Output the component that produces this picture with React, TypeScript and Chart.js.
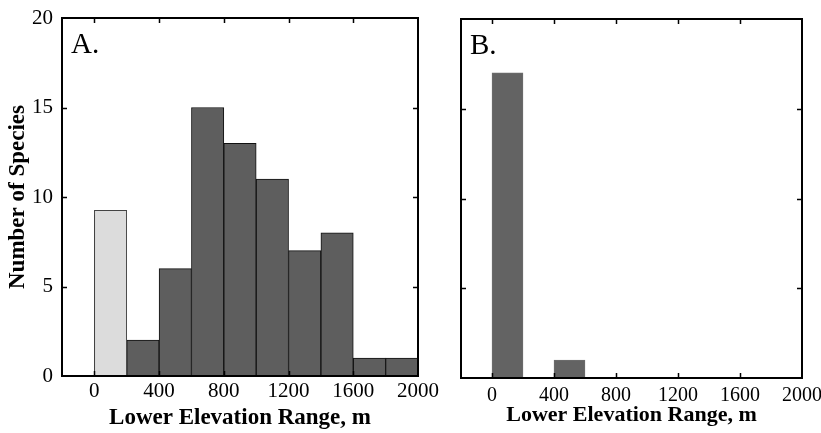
import React, { useEffect, useRef } from "react";
import { Chart, registerables } from "chart.js";

Chart.register(...registerables);

// Bin centres (m), bin width 200 m
const binCenters = [100, 300, 500, 700, 900, 1100, 1300, 1500, 1700, 1900];
// Panel A counts (dark bars)
const countsA = [9, 2, 6, 15, 13, 11, 7, 8, 1, 1];
// Panel A light bar (first bin)
const lightA = [9.25];
// Panel B counts
const countsB = [17, 0, 1, 0, 0, 0, 0, 0, 0, 0];
// Axis ranges and tick labels
const xRange = [-200, 2000];
const yRange = [0, 20];
const xTickLabels = [0, 400, 800, 1200, 1600, 2000];

const SERIF = "'Liberation Serif', 'Times New Roman', serif";

const framePlugin = {
  id: "frame",
  afterDatasetsDraw(chart: any, _args: any, opts: any) {
    const { ctx, chartArea: a, scales } = chart;
    const x = scales.x;
    const y = scales.y;
    ctx.save();
    ctx.strokeStyle = "#000";
    ctx.lineWidth = 2;
    ctx.strokeRect(a.left, a.top, a.right - a.left, a.bottom - a.top);
    ctx.lineWidth = 1.5;
    const L = 5;
    ctx.beginPath();
    x.ticks.forEach((t: any) => {
      if (t.value <= x.min || t.value >= x.max) return;
      const px = Math.round(x.getPixelForValue(t.value)) + 0.5;
      ctx.moveTo(px, a.top);
      ctx.lineTo(px, a.top + L);
      ctx.moveTo(px, a.bottom);
      ctx.lineTo(px, a.bottom - L);
    });
    y.ticks.forEach((t: any) => {
      if (t.value <= y.min || t.value >= y.max) return;
      const py = Math.round(y.getPixelForValue(t.value)) + 0.5;
      ctx.moveTo(a.left, py);
      ctx.lineTo(a.left + L, py);
      ctx.moveTo(a.right, py);
      ctx.lineTo(a.right - L, py);
    });
    ctx.stroke();
    if (opts && opts.label) {
      ctx.fillStyle = "#000";
      ctx.font = `29px ${SERIF}`;
      ctx.textBaseline = "alphabetic";
      ctx.textAlign = "left";
      ctx.fillText(opts.label, a.left + 9, a.top + 35);
    }
    ctx.restore();
  },
};

function makeConfig(panel: "A" | "B") {
  const isA = panel === "A";
  const datasets: any[] = [];
  if (isA) {
    datasets.push({
      data: lightA.map((v, i) => ({ x: binCenters[i], y: v })),
      backgroundColor: "#dcdcdc",
      borderColor: "#444",
      borderWidth: 1,
    });
    datasets.push({
      data: countsA.map((v, i) => ({ x: binCenters[i], y: v })),
      backgroundColor: "#5e5e5e",
      borderColor: "#111",
      borderWidth: 1,
    });
  } else {
    datasets.push({
      data: countsB.map((v, i) => ({ x: binCenters[i], y: v })),
      backgroundColor: "#636363",
      borderColor: "#6e6e6e",
      borderWidth: 1,
    });
  }
  datasets.forEach((d) => {
    d.barPercentage = 1;
    d.categoryPercentage = 1;
    d.grouped = false;
    d.borderSkipped = "bottom";
  });

  return {
    type: "bar" as const,
    data: { datasets },
    plugins: [framePlugin],
    options: {
      animation: false as const,
      responsive: false,
      devicePixelRatio: 1,
      layout: {
        padding: isA
          ? { left: 0, right: 27, top: 18, bottom: 0 }
          : { left: 0, right: 19, top: 19, bottom: 0 },
      },
      plugins: {
        legend: { display: false },
        tooltip: { enabled: false },
        frame: { label: isA ? "A." : "B." },
      },
      scales: {
        x: {
          type: "linear" as const,
          offset: false,
          min: xRange[0],
          max: xRange[1],
          grid: { display: false, drawTicks: false, offset: false },
          border: { display: false },
          ticks: {
            stepSize: 200,
            autoSkip: false,
            maxRotation: 0,
            padding: isA ? 3 : 6,
            color: "#000",
            font: { family: SERIF, size: isA ? 21 : 20 },
            callback: (v: any) => (xTickLabels.includes(v) ? String(v) : null),
          },
          title: {
            display: true,
            text: "Lower Elevation Range, m",
            color: "#000",
            font: { family: SERIF, size: isA ? 23 : 22, weight: "bold" as const },
            padding: { top: 0, bottom: isA ? 1 : 4 },
          },
          afterFit: (s: any) => {
            s.height = isA ? 57 : 55;
            s.paddingLeft = 0;
            s.paddingRight = 0;
          },
        },
        y: {
          min: yRange[0],
          max: yRange[1],
          grid: { display: false, drawTicks: false },
          border: { display: false },
          ticks: {
            display: isA,
            stepSize: 5,
            padding: 9,
            color: "#000",
            font: { family: SERIF, size: 21 },
          },
          title: {
            display: isA,
            text: "Number of Species",
            color: "#000",
            font: { family: SERIF, size: 23, weight: "bold" as const },
            padding: { top: 4, bottom: 0 },
          },
          afterFit: (s: any) => {
            s.width = isA ? 62 : 16;
            s.paddingTop = 0;
            s.paddingBottom = 0;
          },
        },
      },
    },
  };
}

function Panel({ panel, left, width }: { panel: "A" | "B"; left: number; width: number }) {
  const ref = useRef<HTMLCanvasElement | null>(null);
  useEffect(() => {
    if (!ref.current) return;
    const chart = new Chart(ref.current, makeConfig(panel) as any);
    return () => chart.destroy();
  }, [panel]);
  return (
    <canvas
      ref={ref}
      width={width}
      height={433}
      style={{ position: "absolute", left, top: 0, width, height: 433 }}
    />
  );
}

export default function App() {
  return (
    <div
      style={{
        position: "fixed",
        left: 0,
        top: 0,
        width: 821,
        height: 433,
        background: "#fff",
        overflow: "hidden",
      }}
    >
      <Panel panel="A" left={0} width={445} />
      <Panel panel="B" left={445} width={376} />
    </div>
  );
}
